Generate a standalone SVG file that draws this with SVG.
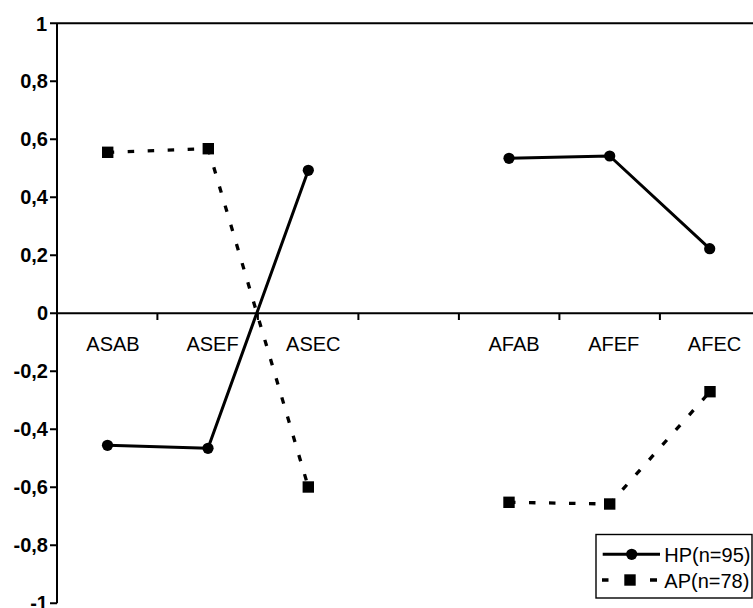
<svg xmlns="http://www.w3.org/2000/svg" width="753" height="608" viewBox="0 0 753 608">
<style>
.axis{stroke:#000;stroke-width:2;fill:none}
.ylab{font-family:"Liberation Sans",Arial,sans-serif;font-weight:bold;font-size:20px;text-anchor:end;fill:#000}
.xlab{font-family:"Liberation Sans",Arial,sans-serif;font-size:20px;text-anchor:middle;fill:#000}
.leg{font-family:"Liberation Sans",Arial,sans-serif;font-size:20px;fill:#000}
.hp{stroke:#000;stroke-width:3;fill:none;stroke-linejoin:round}
.ap{stroke:#000;stroke-width:3.3;fill:none;stroke-dasharray:6.5 13.5}
</style>
<rect width="753" height="608" fill="#fff"/>
<g id="axes">
<path class="axis" d="M57,23.3V603.3M50,23.3H753M50,313.3H753"/>
<path class="axis" d="M50,81.3H57M50,139.3H57M50,197.3H57M50,255.3H57M50,371.3H57M50,429.3H57M50,487.3H57M50,545.3H57M50,603.3H57"/>
<path class="axis" d="M157.4,313.3V320M257.9,313.3V320M358.4,313.3V320M458.9,313.3V320M559.4,313.3V320M659.9,313.3V320"/>
<text class="ylab" x="47" y="30.5">1</text>
<text class="ylab" x="48" y="88.3">0,8</text>
<text class="ylab" x="48" y="146.3">0,6</text>
<text class="ylab" x="48" y="204.3">0,4</text>
<text class="ylab" x="48" y="262.3">0,2</text>
<text class="ylab" x="48" y="320.3">0</text>
<text class="ylab" x="48" y="378.3">-0,2</text>
<text class="ylab" x="48" y="436.3">-0,4</text>
<text class="ylab" x="48" y="494.3">-0,6</text>
<text class="ylab" x="48" y="552.3">-0,8</text>
<text class="ylab" x="48" y="610.3">-1</text>
<text class="xlab" x="113" y="351">ASAB</text>
<text class="xlab" x="212.5" y="351">ASEF</text>
<text class="xlab" x="313.3" y="351">ASEC</text>
<text class="xlab" x="514" y="351">AFAB</text>
<text class="xlab" x="613.7" y="351">AFEF</text>
<text class="xlab" x="714.5" y="351">AFEC</text>
</g>
<g id="connectors">
<polyline class="hp" points="107.5,445.3 208,448.3 308.3,170.3"/>
<polyline class="hp" points="509,158.3 609.7,156 709.7,248.7"/>
<polyline class="ap" points="107.7,152.3 208.3,148.7 308.3,487"/>
<polyline class="ap" points="509,502.3 609.7,504 710,391.7"/>
</g>
<g id="hp-points" fill="#000">
<circle cx="107.5" cy="445.3" r="5.6"/>
<circle cx="208" cy="448.3" r="5.6"/>
<circle cx="308.3" cy="170.3" r="5.6"/>
<circle cx="509" cy="158.3" r="5.6"/>
<circle cx="609.7" cy="156" r="5.6"/>
<circle cx="709.7" cy="248.7" r="5.6"/>
</g>
<g id="ap-points" fill="#000">
<rect x="102" y="146.6" width="11.4" height="11.4"/>
<rect x="202.6" y="143" width="11.4" height="11.4"/>
<rect x="302.6" y="481.3" width="11.4" height="11.4"/>
<rect x="503.3" y="496.6" width="11.4" height="11.4"/>
<rect x="604" y="498.3" width="11.4" height="11.4"/>
<rect x="704.3" y="386" width="11.4" height="11.4"/>
</g>
<g id="legend">
<rect x="596" y="534.5" width="156" height="63.5" fill="#fff" stroke="#000" stroke-width="1.4"/>
<path d="M602.7,554.3H660" stroke="#000" stroke-width="3"/>
<circle cx="631.7" cy="554.3" r="5.6" fill="#000"/>
<text class="leg" x="664.3" y="561.5">HP(n=95)</text>
<path d="M602,580H608.5M650,580H657" stroke="#000" stroke-width="3.3"/>
<rect x="624.3" y="574.3" width="11.4" height="11.4" fill="#000"/>
<text class="leg" x="664.3" y="587.5">AP(n=78)</text>
</g>
</svg>
